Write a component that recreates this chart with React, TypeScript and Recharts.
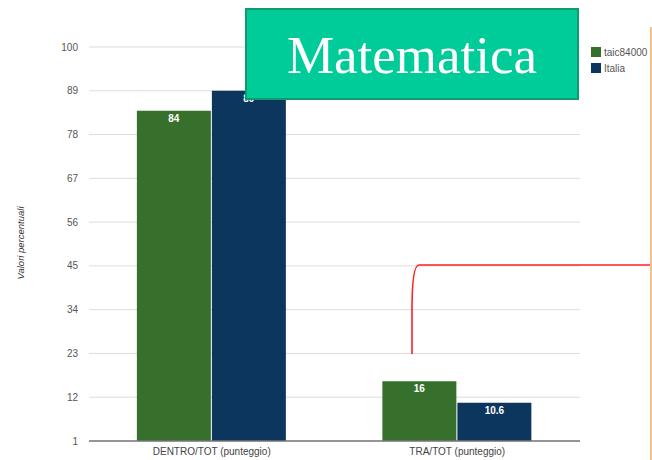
import React from "react";
import {
  Bar,
  BarChart,
  CartesianGrid,
  LabelList,
  XAxis,
  YAxis,
} from "recharts";

const categories = ["DENTRO/TOT (punteggio)", "TRA/TOT (punteggio)"];
const scuola = [84, 16];
const italia = [89, 10.6];
const yTicks = [1, 12, 23, 34, 45, 56, 67, 78, 89, 100];

const data = categories.map((name, i) => ({
  name,
  scuola: scuola[i],
  italia: italia[i],
}));

const GREEN = "#37702c";
const NAVY = "#0c365e";
const FONT = "'Liberation Sans', Arial, sans-serif";

const legendItems = [
  { label: "taic84000", color: GREEN },
  { label: "Italia", color: NAVY },
];

const LegendBox = () => (
  <div
    style={{
      position: "absolute",
      left: 591,
      top: 44,
      fontFamily: FONT,
      fontSize: 10,
      color: "#555",
    }}
  >
    {legendItems.map((it) => (
      <div
        key={it.label}
        style={{
          display: "flex",
          alignItems: "center",
          height: 16,
          whiteSpace: "nowrap",
        }}
      >
        <span
          style={{
            width: 10,
            height: 10,
            background: it.color,
            marginRight: 3,
            display: "inline-block",
          }}
        />
        {it.label}
      </div>
    ))}
  </div>
);

export default function App() {
  return (
    <div
      style={{
        position: "absolute",
        left: 0,
        top: 0,
        width: 652,
        height: 460,
        overflow: "hidden",
        background: "#fff",
      }}
    >
      <BarChart
        width={652}
        height={460}
        data={data}
        margin={{ top: 47, right: 72, bottom: 0, left: 0 }}
        barCategoryGap="19.5%"
        barGap={1}
      >
        <CartesianGrid
          vertical={false}
          stroke="#dcdcdc"
          strokeWidth={1}
        />
        <XAxis
          dataKey="name"
          height={19}
          tickLine={false}
          axisLine={{ stroke: "#777", strokeWidth: 1.5 }}
          tickMargin={1}
          tick={{ fill: "#444", fontSize: 10, fontFamily: FONT }}
        />
        <YAxis
          width={89}
          domain={[1, 100]}
          ticks={yTicks}
          interval={0}
          axisLine={false}
          tickLine={false}
          tickMargin={5}
          tick={{ fill: "#555", fontSize: 10, fontFamily: FONT }}
          label={{
            content: () => (
              <text
                transform="translate(24,243) rotate(-90)"
                textAnchor="middle"
                fontSize={9.5}
                fontStyle="italic"
                fontFamily={FONT}
                fill="#333"
              >
                Valori percentuali
              </text>
            ),
          }}
        />
        <Bar dataKey="scuola" name="taic84000" fill={GREEN} isAnimationActive={false}>
          <LabelList
            dataKey="scuola"
            position="insideTop"
            offset={4}
            fill="#fff"
            fontSize={10}
            fontWeight="bold"
            fontFamily={FONT}
          />
        </Bar>
        <Bar dataKey="italia" name="Italia" fill={NAVY} isAnimationActive={false}>
          <LabelList
            dataKey="italia"
            position="insideTop"
            offset={4}
            fill="#fff"
            fontSize={10}
            fontWeight="bold"
            fontFamily={FONT}
          />
        </Bar>
      </BarChart>

      <LegendBox />

      {/* overlay: title box, red connector, orange edge */}
      <svg
        width={652}
        height={460}
        style={{ position: "absolute", left: 0, top: 0, pointerEvents: "none" }}
      >
        <rect
          x={246}
          y={9}
          width={332}
          height={90}
          fill="#00cc99"
          stroke="#0f9a72"
          strokeWidth={2}
        />
        <text
          x={412}
          y={73}
          textAnchor="middle"
          fontSize={53}
          fontFamily="'Liberation Serif', 'DejaVu Serif', serif"
          fill="#fff"
        >
          Matematica
        </text>
        <path
          d="M412,354 L412,310 C412,282 414,265 419,265 L652,265"
          fill="none"
          stroke="#ff2020"
          strokeWidth={1.6}
        />
        <line x1={651} y1={27} x2={651} y2={460} stroke="#f9c08a" strokeWidth={2} />
      </svg>
    </div>
  );
}
